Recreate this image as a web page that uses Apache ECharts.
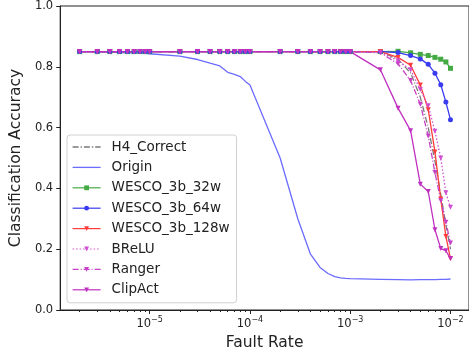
<!DOCTYPE html>
<html>
<head>
<meta charset="utf-8">
<script src="https://cdn.jsdelivr.net/npm/echarts@6/dist/echarts.min.js"></script>
<style>
  html, body { margin: 0; padding: 0; background: #fff; }
  #chart { width: 469px; height: 356px; }
</style>
</head>
<body>
<div id="chart"></div>
<script>
// fault rates shared by every series
const faultRates = [
  2e-6, 3e-6, 4e-6, 5e-6, 6e-6, 7e-6, 8e-6, 9e-6, 1e-5,
  2e-5, 3e-5, 4e-5, 5e-5, 6e-5, 7e-5, 8e-5, 9e-5, 1e-4,
  2e-4, 3e-4, 4e-4, 5e-4, 6e-4, 7e-4, 8e-4, 9e-4, 1e-3,
  2e-3, 3e-3, 4e-3, 5e-3, 6e-3, 7e-3, 8e-3, 9e-3, 1e-2
];

const h4Correct = [
  0.85, 0.85, 0.85, 0.85, 0.85, 0.85, 0.85, 0.85, 0.85,
  0.85, 0.85, 0.85, 0.85, 0.85, 0.85, 0.85, 0.85, 0.85,
  0.85, 0.85, 0.85, 0.85, 0.85, 0.85, 0.85, 0.85, 0.85,
  0.85, 0.825, 0.78, 0.70, 0.60, 0.49, 0.38, 0.28, 0.20
];
const origin = [
  0.85, 0.849, 0.848, 0.847, 0.846, 0.845, 0.845, 0.844, 0.843,
  0.835, 0.824, 0.812, 0.803, 0.782, 0.775, 0.768, 0.752, 0.74,
  0.50, 0.30, 0.185, 0.14, 0.12, 0.11, 0.106, 0.104, 0.103,
  0.101, 0.10, 0.099, 0.10, 0.10, 0.10, 0.101, 0.101, 0.102
];
const wesco32w = [
  0.85, 0.85, 0.85, 0.85, 0.85, 0.85, 0.85, 0.85, 0.85,
  0.85, 0.85, 0.85, 0.85, 0.85, 0.85, 0.85, 0.85, 0.85,
  0.85, 0.85, 0.85, 0.85, 0.85, 0.85, 0.85, 0.85, 0.85,
  0.85, 0.851, 0.846, 0.841, 0.837, 0.831, 0.825, 0.816, 0.795
];
const wesco64w = [
  0.85, 0.85, 0.85, 0.85, 0.85, 0.85, 0.85, 0.85, 0.85,
  0.85, 0.85, 0.85, 0.85, 0.85, 0.85, 0.85, 0.85, 0.85,
  0.85, 0.85, 0.85, 0.85, 0.85, 0.85, 0.85, 0.85, 0.85,
  0.85, 0.847, 0.837, 0.826, 0.808, 0.779, 0.741, 0.684, 0.626
];
const wesco128w = [
  0.85, 0.85, 0.85, 0.85, 0.85, 0.85, 0.85, 0.85, 0.85,
  0.85, 0.85, 0.85, 0.85, 0.85, 0.85, 0.85, 0.85, 0.85,
  0.85, 0.85, 0.85, 0.85, 0.85, 0.85, 0.85, 0.85, 0.85,
  0.85, 0.831, 0.805, 0.740, 0.659, 0.52, 0.365, 0.242, 0.169
];
const brelu = [
  0.85, 0.85, 0.85, 0.85, 0.85, 0.85, 0.85, 0.85, 0.85,
  0.85, 0.85, 0.85, 0.85, 0.85, 0.85, 0.85, 0.85, 0.85,
  0.85, 0.85, 0.85, 0.85, 0.85, 0.85, 0.85, 0.85, 0.85,
  0.848, 0.82, 0.79, 0.725, 0.672, 0.588, 0.50, 0.386, 0.338
];
const ranger = [
  0.85, 0.85, 0.85, 0.85, 0.85, 0.85, 0.85, 0.85, 0.85,
  0.85, 0.85, 0.85, 0.85, 0.85, 0.85, 0.85, 0.85, 0.85,
  0.85, 0.85, 0.85, 0.85, 0.85, 0.85, 0.85, 0.85, 0.85,
  0.846, 0.81, 0.755, 0.677, 0.572, 0.452, 0.36, 0.289, 0.22
];
const clipAct = [
  0.85, 0.85, 0.85, 0.85, 0.85, 0.85, 0.85, 0.85, 0.85,
  0.85, 0.85, 0.85, 0.85, 0.85, 0.85, 0.85, 0.85, 0.85,
  0.85, 0.85, 0.85, 0.85, 0.85, 0.85, 0.85, 0.85, 0.85,
  0.79, 0.664, 0.59, 0.414, 0.39, 0.264, 0.202, 0.195, 0.169
];

const majorTicks = [1e-5, 1e-4, 1e-3, 1e-2];
const minorTicks = [
  2e-6, 3e-6, 4e-6, 5e-6, 6e-6, 7e-6, 8e-6, 9e-6,
  2e-5, 3e-5, 4e-5, 5e-5, 6e-5, 7e-5, 8e-5, 9e-5,
  2e-4, 3e-4, 4e-4, 5e-4, 6e-4, 7e-4, 8e-4, 9e-4,
  2e-3, 3e-3, 4e-3, 5e-3, 6e-3, 7e-3, 8e-3, 9e-3
];

const font = 'DejaVu Sans';
const pairs = vals => faultRates.map((x, i) => [x, vals[i]]);

function lineSeries(name, vals, color, lineType, symbol, rotate) {
  return {
    name: name,
    type: 'line',
    data: pairs(vals),
    symbol: symbol,
    symbolSize: symbol === 'none' ? 0 : 5,
    symbolRotate: rotate || 0,
    showSymbol: symbol !== 'none',
    color: color,
    lineStyle: { color: color, width: 1.3, type: lineType },
    itemStyle: { color: color },
    animation: false
  };
}

// legend icons for the line-only series (no marker)
const solidIcon = 'path://M0,0H28V1.3H0Z';
const dashDotIcon = 'path://M0,0H6V1.3H0Z M8,0H9.3V1.3H8Z M11.3,0H17.3V1.3H11.3Z M19.3,0H20.6V1.3H19.3Z M22.6,0H28V1.3H22.6Z';

const chart = echarts.init(document.getElementById('chart'), null, { renderer: 'canvas' });

chart.setOption({
  animation: false,
  grid: {
    left: 60, top: 4, right: -2, bottom: 46,
    show: true, borderColor: '#222', borderWidth: 1
  },
  legend: {
    orient: 'vertical',
    left: 67, top: 135,
    padding: [5, 7, 6, 5],
    itemWidth: 28,
    itemHeight: 6,
    itemGap: 6.4,
    symbolKeepAspect: true,
    lineStyle: { width: 1.2 },
    borderColor: '#d0d0d0',
    borderWidth: 1,
    borderRadius: 3,
    backgroundColor: 'rgba(255,255,255,0.85)',
    textStyle: { fontFamily: font, fontSize: 13.5, color: '#222', lineHeight: 14, padding: [0, 0, 0, 6] },
    data: [
      { name: 'H4_Correct', icon: dashDotIcon },
      { name: 'Origin', icon: solidIcon },
      'WESCO_3b_32w', 'WESCO_3b_64w', 'WESCO_3b_128w', 'BReLU', 'Ranger', 'ClipAct'
    ]
  },
  xAxis: [{
    type: 'log',
    min: 1.28e-6,
    max: 1.53e-2,
    name: 'Fault Rate',
    nameLocation: 'middle',
    nameGap: 22,
    nameTextStyle: { fontFamily: font, fontSize: 15.5, color: '#222' },
    axisLine: { show: true, lineStyle: { color: '#222', width: 1 } },
    axisTick: { show: true, length: 4, customValues: majorTicks, lineStyle: { color: '#222' } },
    axisLabel: {
      customValues: majorTicks,
      margin: 6,
      formatter: v => '{b|10}{s|\u2212' + Math.round(-Math.log10(v)) + '}',
      rich: {
        b: { fontFamily: font, fontSize: 11.5, color: '#222' },
        s: { fontFamily: font, fontSize: 8, color: '#222', padding: [0, 0, 8, 0] }
      }
    },
    splitLine: { show: false }
  }, {
    type: 'log',
    min: 1.28e-6,
    max: 1.53e-2,
    position: 'bottom',
    axisLine: { show: false },
    axisTick: { show: true, length: 2, customValues: minorTicks, lineStyle: { color: '#222' } },
    axisLabel: { show: false },
    splitLine: { show: false }
  }],
  yAxis: {
    type: 'value',
    min: 0, max: 1, interval: 0.2,
    name: 'Classification Accuracy',
    nameLocation: 'middle',
    nameGap: 32,
    nameTextStyle: { fontFamily: font, fontSize: 15.5, color: '#222' },
    axisLine: { show: true, lineStyle: { color: '#222', width: 1 } },
    axisTick: { show: true, length: 4, lineStyle: { color: '#222' } },
    axisLabel: {
      fontFamily: font, fontSize: 11.5, color: '#222', margin: 7,
      formatter: v => v.toFixed(1)
    },
    splitLine: { show: false }
  },
  series: [
    lineSeries('H4_Correct', h4Correct, '#7a7a7a', [6, 2, 1, 2], 'none'),
    lineSeries('Origin', origin, '#6b6bff', 'solid', 'none'),
    lineSeries('WESCO_3b_32w', wesco32w, '#44aa44', 'solid', 'rect'),
    lineSeries('WESCO_3b_64w', wesco64w, '#3a3af0', 'solid', 'circle'),
    lineSeries('WESCO_3b_128w', wesco128w, '#ff3b3b', 'solid', 'triangle', 180),
    lineSeries('BReLU', brelu, '#d050d0', [1.5, 2], 'triangle', 180),
    lineSeries('Ranger', ranger, '#c840c8', [6, 2, 1, 2], 'triangle', 180),
    lineSeries('ClipAct', clipAct, '#c030c0', 'solid', 'triangle', 180)
  ]
});
</script>
</body>
</html>
